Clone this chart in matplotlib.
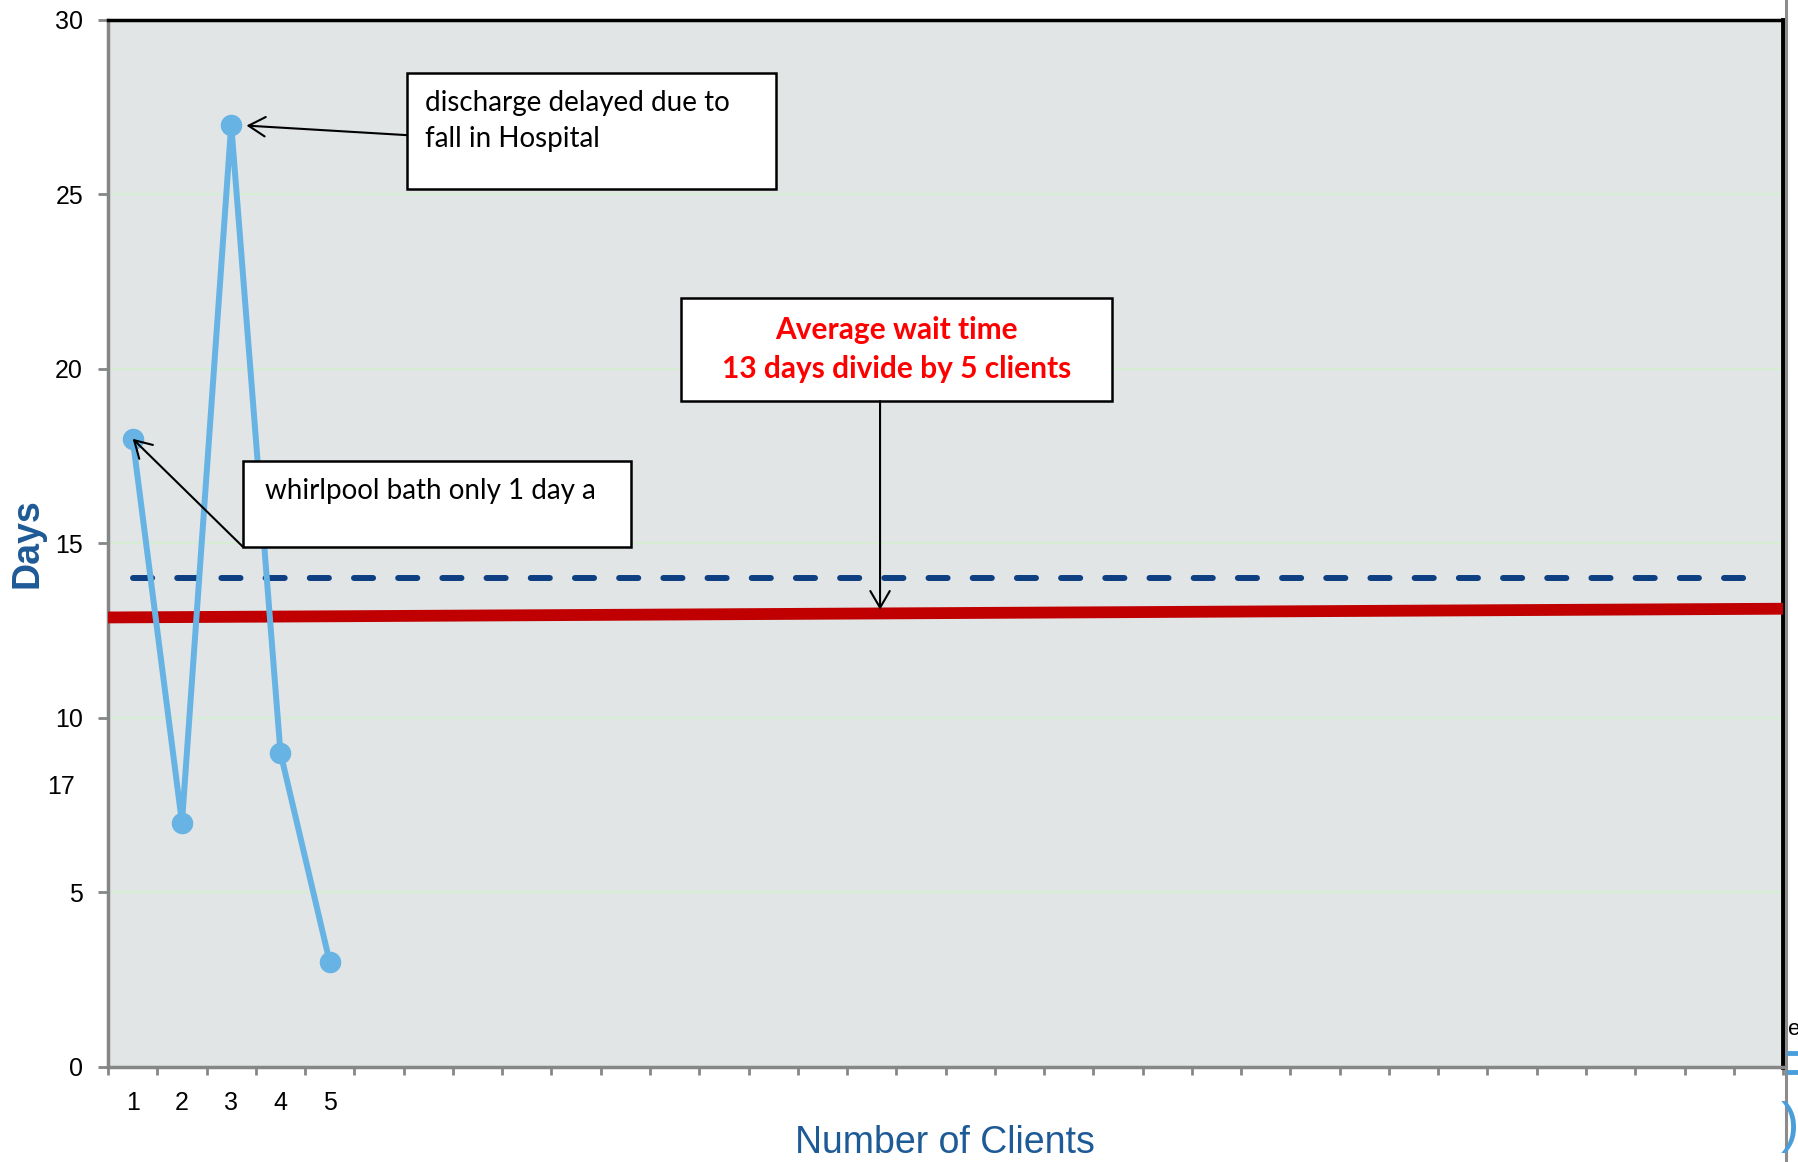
import numpy as np
import matplotlib.pyplot as plt
from matplotlib.patches import Rectangle
from matplotlib.lines import Line2D

plt.rcParams['font.family'] = ['Liberation Sans', 'DejaVu Sans']

# Wait time per client
clients = [1, 2, 3, 4, 5]
days = [18, 7, 27, 9, 3]
n_slots = 34  # client slots on the x axis

# Target (dashed) and average (red) lines
target_x = [1, 34]
target_days = [14, 14]
avg_x = [0.5, 34.5]
avg_days = [12.88, 13.13]

y_ticks = [0, 5, 10, 15, 20, 25, 30]

note_font = ['Lato', 'DejaVu Sans']
gray = '#868686'
blue_fragment = '#4A9FDA'

fig = plt.figure(figsize=(17.98, 11.62), dpi=100)
ax = fig.add_axes([0.0601, 0.0818, 0.9316, 0.901])
ax.set_facecolor('#E1E5E6')
ax.set_xlim(0.5, n_slots + 0.5)
ax.set_ylim(0, 30)

ax.grid(axis='y', color='#D6ECD3', linewidth=1.5)
ax.set_axisbelow(True)

ax.plot(avg_x, avg_days, color='#C00000', linewidth=8.5, solid_capstyle='butt', zorder=3)
ax.plot(target_x, target_days, color='#0D3F82', linewidth=4.3, dashes=(3.2, 4.2),
        dash_capstyle='round', zorder=3)
ax.plot(clients, days, color='#67B3E4', linewidth=4.3, marker='o', markersize=14.5, zorder=4)

# axes, ticks
ax.set_yticks(y_ticks)
ax.tick_params(axis='y', length=7, width=2, color=gray, pad=11, labelsize=18)
ax.set_xticks(clients)
ax.set_xticks(np.arange(0.5, n_slots + 1), minor=True)
ax.tick_params(axis='x', which='major', length=0, pad=17, labelsize=18)
ax.tick_params(axis='x', which='minor', length=6, width=2, color=gray)

for side in ['left', 'bottom']:
    ax.spines[side].set_color(gray)
    ax.spines[side].set_linewidth(2.5)
ax.spines['top'].set_color('black')
ax.spines['top'].set_linewidth(2.5)
ax.spines['right'].set_color('black')
ax.spines['right'].set_linewidth(3.5)

ax.text(-0.048, 0.5005, 'Days', transform=ax.transAxes, rotation=90, ha='center', va='center',
        fontsize=27, fontweight='bold', color='#1E5A96')
ax.text(0.4997, -0.0726, 'Number of Clients', transform=ax.transAxes, ha='center', va='center',
        fontsize=27, color='#1E5A96')
ax.text(-0.028, 0.2674, '17', transform=ax.transAxes, ha='center', va='center', fontsize=18)

# callout boxes
ax.add_patch(Rectangle((6.57, 25.16), 7.49, 3.32, facecolor='white', edgecolor='black',
                       linewidth=1.8, zorder=5))
ax.text(6.94, 27.39, 'discharge delayed due to', fontsize=20, family=note_font, va='baseline', zorder=6)
ax.text(6.94, 26.36, 'fall in Hospital', fontsize=20, family=note_font, va='baseline', zorder=6)

ax.add_patch(Rectangle((3.24, 14.90), 7.88, 2.46, facecolor='white', edgecolor='black',
                       linewidth=1.8, zorder=5))
ax.text(3.69, 16.28, 'whirlpool bath only 1 day a', fontsize=20, family=note_font,
        va='baseline', zorder=6)

ax.add_patch(Rectangle((12.13, 19.08), 8.75, 2.95, facecolor='white', edgecolor='black',
                       linewidth=1.8, zorder=5))
ax.text(16.50, 20.87, 'Average wait time', fontsize=21.5, family=note_font, fontweight='bold',
        color='#FF0000', ha='center', va='baseline', zorder=6)
ax.text(16.50, 19.75, '13 days divide by 5 clients', fontsize=21.5, family=note_font,
        fontweight='bold', color='#FF0000', ha='center', va='baseline', zorder=6)

arrow = dict(arrowstyle='->,head_length=0.6,head_width=0.35', mutation_scale=20,
             color='black', linewidth=1.5, shrinkA=0)
ax.annotate('', xy=(3, 27), xytext=(6.57, 26.7), arrowprops=dict(arrow, shrinkB=11), zorder=6)
ax.annotate('', xy=(1, 18), xytext=(3.24, 14.90), arrowprops=dict(arrow, shrinkB=0), zorder=6)
ax.annotate('', xy=(16.17, 13.1), xytext=(16.17, 19.08), arrowprops=dict(arrow, shrinkB=0), zorder=6)

# slide edge on the right
fig.add_artist(Line2D([0.9934, 0.9934], [0, 1], color='#8C8C8C', linewidth=2.2))
fig.text(0.9942, 0.1136, 'e', fontsize=16, va='center', ha='left')
for yf in [0.0937, 0.0775]:
    fig.add_artist(Line2D([0.9952, 1.0], [yf, yf], color=blue_fragment, linewidth=3.5))
fig.text(0.9905, 0.0300, ')', fontsize=40, color=blue_fragment, va='center', ha='left')

fig.savefig('out.png', dpi=100)
